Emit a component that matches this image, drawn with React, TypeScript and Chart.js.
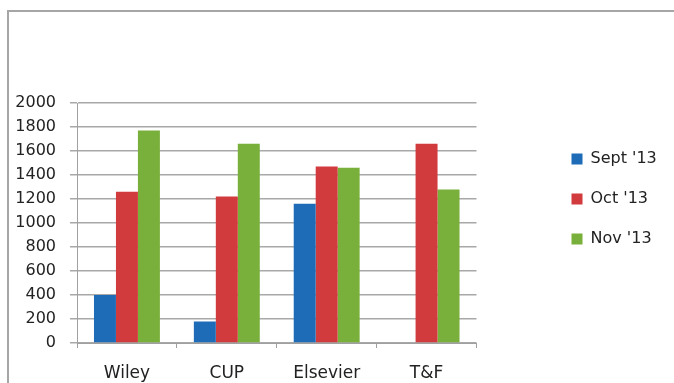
import React, { useEffect, useRef } from "react";
import { Chart, registerables } from "chart.js";

Chart.register(...registerables);

const categories = ["Wiley", "CUP", "Elsevier", "T&F"];
const sept13 = [400, 180, 1160, 0];
const oct13 = [1260, 1220, 1470, 1660];
const nov13 = [1770, 1660, 1460, 1280];
const seriesNames = ["Sept '13", "Oct '13", "Nov '13"];
const yTicks = { min: 0, max: 2000, step: 200 };

const FONT = "'DejaVu Sans', sans-serif";

const framePlugin = {
  id: "frame",
  beforeDraw(chart: any) {
    const c = chart.ctx;
    c.save();
    c.fillStyle = "#ffffff";
    c.fillRect(0, 0, chart.width, chart.height);
    c.strokeStyle = "#a6a6a6";
    c.lineWidth = 2;
    c.beginPath();
    c.moveTo(8, chart.height);
    c.lineTo(8, 11);
    c.lineTo(chart.width, 11);
    c.stroke();
    c.restore();
  },
};

export default function App() {
  const ref = useRef<HTMLCanvasElement | null>(null);

  useEffect(() => {
    document.body.style.margin = "0";
    const ctx = ref.current!;
    const chart = new Chart(ctx, {
      type: "bar",
      data: {
        labels: categories,
        datasets: [
          { label: seriesNames[0], data: sept13, backgroundColor: "#1e6bb8" },
          { label: seriesNames[1], data: oct13, backgroundColor: "#d13b3d" },
          { label: seriesNames[2], data: nov13, backgroundColor: "#79b03b" },
        ],
      },
      plugins: [framePlugin],
      options: {
        responsive: false,
        animation: false,
        layout: { padding: { top: 15, left: 0, bottom: 0, right: 17 } },
        datasets: { bar: { categoryPercentage: 0.66, barPercentage: 1 } },
        plugins: {
          tooltip: { enabled: false },
          title: {
            display: true,
            text: " ",
            font: { size: 10, lineHeight: 1.2 },
            padding: { top: 0, bottom: 76 },
          },
          legend: {
            position: "right",
            labels: {
              boxWidth: 11,
              boxHeight: 11,
              padding: 24,
              color: "#222",
              font: { family: FONT, size: 16 },
            },
          },
        },
        scales: {
          x: {
            afterFit: (s: any) => { s.height = 40; },
            grid: {
              offset: true,
              drawOnChartArea: false,
              drawTicks: true,
              tickLength: 5,
              color: "#a0a0a0",
            },
            border: { color: "#a0a0a0" },
            ticks: { color: "#222", padding: 15, font: { family: FONT, size: 17 } },
          },
          y: {
            min: yTicks.min,
            max: yTicks.max,
            afterFit: (s: any) => { s.width = 77; },
            grid: { color: "#a8a8a8", tickLength: 7, lineWidth: 1.5 },
            border: { color: "#a0a0a0" },
            ticks: {
              stepSize: yTicks.step,
              color: "#222",
              padding: 14,
              font: { family: FONT, size: 16 },
              callback: (v: any) => String(v),
            },
          },
          gap: {
            type: "linear",
            position: "right",
            afterFit: (s: any) => { s.width = 71; },
            grid: { display: false },
            border: { display: false },
            ticks: { display: false },
          },
        },
      },
    });
    return () => chart.destroy();
  }, []);

  return (
    <div style={{ position: "absolute", left: 0, top: 0, width: 674, height: 383, overflow: "hidden" }}>
      <canvas ref={ref} width={674} height={383} style={{ display: "block" }} />
    </div>
  );
}
